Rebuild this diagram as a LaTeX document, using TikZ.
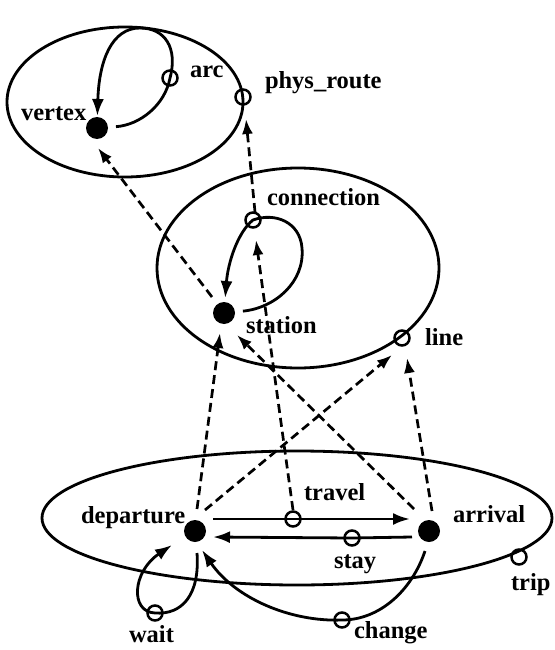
\documentclass[tikz,border=0pt]{standalone}
\usepackage{fontspec}
\setmainfont{Liberation Serif}
\usetikzlibrary{arrows.meta,shapes.geometric}
\begin{document}
\begin{tikzpicture}[x=1pt,y=-1pt,
  every node/.style={inner sep=0pt, outer sep=0pt},
  ell/.style={draw, ellipse, line width=2.8pt},
  dot/.style={circle, fill=black, minimum size=22pt},
  hole/.style={circle, draw, line width=2.5pt, minimum size=15pt},
  lbl/.style={anchor=base west, font=\fontsize{24.5}{28}\selectfont\bfseries},
  conn/.style={line width=2.8pt},
  tip/.style={-{Latex[length=17pt,width=12pt]}},
  dashline/.style={line width=2.7pt, dash pattern=on 9pt off 5pt, -{Latex[length=15pt,width=11pt]}}
]
\useasboundingbox (0,0) rectangle (554,650);

% groups
\node[ell, minimum width=236pt, minimum height=150pt] (topell) at (125,102) {};
\node[ell, minimum width=282pt, minimum height=200pt] (midell) at (298,268) {};
\node[ell, minimum width=510pt, minimum height=134pt] (botell) at (297,518) {};

% points
\node[dot] (vertex) at (97,128) {};
\node[hole] (arc) at (170,78) {};
\node[hole] (physroute) at (243,97) {};
\node[hole] (connection) at (253,220) {};
\node[dot] (station) at (224,313) {};
\node[hole] (line) at (402,338) {};
\node[dot] (departure) at (195,531) {};
\node[dot] (arrival) at (429,531) {};
\node[hole] (travel) at (293,519) {};
\node[hole] (stay) at (352,538) {};
\node[hole] (trip) at (519,557) {};
\node[hole] (wait) at (155,613) {};
\node[hole] (change) at (342,620) {};

% labels
\node[lbl] (lvertex) at (21,121) {vertex};
\node[lbl] (larc) at (190,78) {arc};
\node[lbl] (lphys) at (265,89) {phys\_route};
\node[lbl] (lconn) at (267,205) {connection};
\node[lbl] (lstation) at (246,333) {station};
\node[lbl] (lline) at (425,345) {line};
\node[lbl] (ldep) at (81,523) {departure};
\node[lbl] (larr) at (453,522) {arrival};
\node[lbl] (ltravel) at (304,500) {travel};
\node[lbl] (lstay) at (334,568) {stay};
\node[lbl] (ltrip) at (511,590) {trip};
\node[lbl] (lwait) at (129,642) {wait};
\node[lbl] (lchange) at (354,638) {change};

% solid connectors
\draw[conn, tip, shorten <=8pt, shorten >=1pt] (vertex) .. controls (140,125) and (165,105) .. (arc.center) .. controls (178,48) and (165,28) .. (140,28) .. controls (112,28) and (99,60) .. (vertex);
\draw[conn, tip, shorten <=8pt, shorten >=4pt] (station) .. controls (275,308) and (305,282) .. (302,248) .. controls (300,222) and (275,212) .. (connection.center) .. controls (238,232) and (228,262) .. (station);
\draw[conn, tip] ([shift={(18,-12)}]departure.center) -- (travel.center) -- ([shift={(-19,-12)}]arrival.center);
\draw[conn, tip] ([shift={(-17,6)}]arrival.center) -- (stay.center) -- ([shift={(18,6)}]departure.center);
\draw[conn, tip] ([shift={(2,22)}]departure.center) .. controls (200,595) and (182,615) .. (wait.center) .. controls (130,612) and (132,572) .. ([shift={(-23,14)}]departure.center);
\draw[conn, tip] ([shift={(-4,20)}]arrival.center) .. controls (412,590) and (380,620) .. (change.center) .. controls (290,622) and (235,598) .. ([shift={(7,19)}]departure.center);

% dashed connectors
\draw[dashline] ([shift={(2,-22)}]departure.center) -- ([shift={(-4,20)}]station.center);
\draw[dashline] ([shift={(10,-21)}]departure.center) -- ([shift={(-10,17)}]line.center);
\draw[dashline] ([shift={(-15,-22)}]arrival.center) -- ([shift={(13,22)}]station.center);
\draw[dashline] ([shift={(3,-20)}]arrival.center) -- ([shift={(5,20)}]line.center);
\draw[dashline] ([shift={(0,-9)}]travel.center) -- ([shift={(3,20)}]connection.center);
\draw[dashline] ([shift={(2,-8)}]connection.center) -- ([shift={(3,22)}]physroute.center);
\draw[dashline] ([shift={(-12,-16)}]station.center) -- ([shift={(1,20)}]vertex.center);
\end{tikzpicture}
\end{document}
